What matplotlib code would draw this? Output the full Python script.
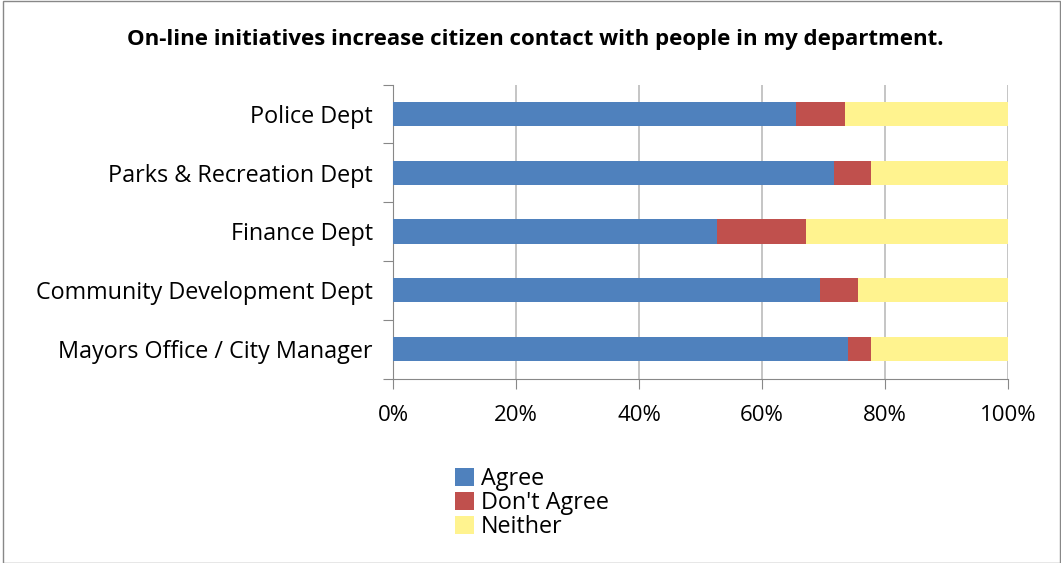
import matplotlib.pyplot as plt
from matplotlib.patches import Rectangle
from matplotlib.ticker import PercentFormatter

plt.rcParams['font.family'] = ['Open Sans', 'DejaVu Sans']

departments = ["Police Dept", "Parks & Recreation Dept", "Finance Dept",
               "Community Development Dept", "Mayors Office / City Manager"]
agree = [65.5, 71.7, 52.7, 69.4, 74.0]
dont_agree = [8.0, 6.0, 14.5, 6.2, 3.7]
neither = [26.5, 22.3, 32.8, 24.4, 22.3]

series = [("Agree", agree, "#4F81BD"),
          ("Don't Agree", dont_agree, "#C0504D"),
          ("Neither", neither, "#FFF38F")]

fig = plt.figure(figsize=(10.61, 5.63), dpi=100)
ax = fig.add_axes([393 / 1061, 1 - 378.5 / 563, 615 / 1061, 294 / 563])

# first department on top
ypos = list(range(len(departments)))[::-1]
left = [0.0] * len(departments)
for name, vals, color in series:
    ax.barh(ypos, vals, left=left, height=0.41, color=color, label=name, zorder=3)
    left = [a + b for a, b in zip(left, vals)]

ax.set_xlim(0, 100)
ax.set_ylim(-0.5, len(departments) - 0.5)
ax.set_xticks(range(0, 101, 20))
ax.xaxis.set_major_formatter(PercentFormatter(decimals=0))
# tick marks sit between the bars, labels on the bars
ax.set_yticks([y + 0.5 for y in range(-1, len(departments))])
ax.set_yticklabels([""] * (len(departments) + 1))
ax.set_yticks(ypos, minor=True)
ax.set_yticklabels(departments, minor=True)
ax.tick_params(axis='y', which='minor', length=0, pad=14.5, labelsize=16.8)
ax.tick_params(axis='y', which='major', length=7, color='#888888')
ax.tick_params(axis='x', length=7, color='#888888', pad=12, labelsize=16)

ax.grid(axis='x', color='#BBBBBB', linewidth=1.2, zorder=0)
for side in ('top', 'right'):
    ax.spines[side].set_visible(False)
for side in ('left', 'bottom'):
    ax.spines[side].set_color('#888888')

fig.text(535 / 1061, 1 - 40 / 563,
         "On-line initiatives increase citizen contact with people in my department.",
         ha='center', va='center', fontsize=16, fontweight='bold')

fig.legend(loc='upper left', bbox_to_anchor=(446 / 1061, 1 - 458 / 563),
           frameon=False, fontsize=16.8, handlelength=0.8, handleheight=0.8,
           handletextpad=0.3, labelspacing=0.0, borderaxespad=0)

fig.patches.append(Rectangle((3 / 1061, 0), 1 - 4 / 1061, 1 - 1 / 563,
                             transform=fig.transFigure, fill=False,
                             edgecolor='#888888', linewidth=1))

fig.savefig("out.png", dpi=100)
